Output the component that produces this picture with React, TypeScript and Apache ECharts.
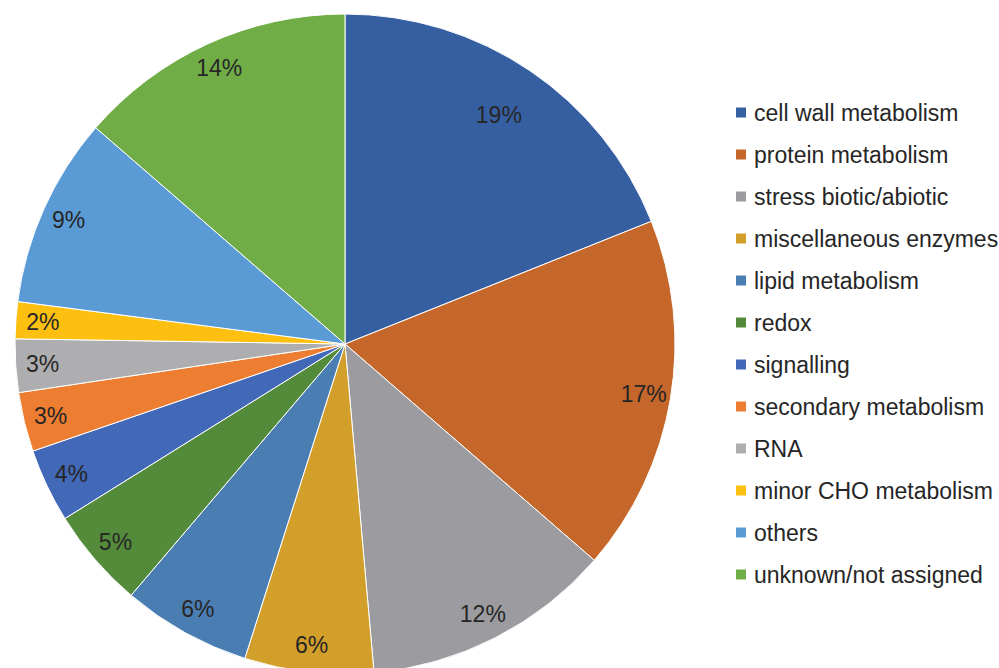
import React, { useEffect, useRef } from "react";
import * as echarts from "echarts";

const categories = [
  "cell wall metabolism",
  "protein metabolism",
  "stress biotic/abiotic",
  "miscellaneous enzymes",
  "lipid metabolism",
  "redox",
  "signalling",
  "secondary metabolism",
  "RNA",
  "minor CHO metabolism",
  "others",
  "unknown/not assigned",
];

const values = [18.9, 17.4, 12.2, 6.3, 6.3, 4.9, 3.6, 2.9, 2.6, 1.8, 9.3, 13.6];

const colors = [
  "#365fa2",
  "#c5662a",
  "#9c9ca0",
  "#d29f2a",
  "#4a7eb3",
  "#548b3b",
  "#4268b8",
  "#ed7d31",
  "#aeaeb1",
  "#fdc010",
  "#5b9bd5",
  "#71ad47",
];

export default function App() {
  const ref = useRef<HTMLDivElement>(null);

  useEffect(() => {
    if (!ref.current) return;
    const chart = echarts.init(ref.current, undefined, { renderer: "svg" });
    const data = categories.map((name, i) => ({
      name,
      value: values[i],
      itemStyle: { color: colors[i] },
    }));
    chart.setOption({
      animation: false,
      backgroundColor: "#ffffff",
      textStyle: { fontFamily: "Liberation Sans, Arial, sans-serif" },
      legend: {
        orient: "vertical",
        left: 734,
        top: 101,
        padding: 0,
        icon: "rect",
        itemWidth: 12,
        itemHeight: 12,
        itemGap: 19,
        data: categories,
        selectedMode: false,
        textStyle: {
          fontSize: 23,
          color: "#262626",
          lineHeight: 22,
          padding: [0, 0, 0, 2],
        },
      },
      series: [
        {
          type: "pie",
          center: [345, 344],
          radius: [0, 330],
          startAngle: 90,
          clockwise: true,
          silent: true,
          label: { show: false },
          labelLine: { show: false },
          itemStyle: { borderColor: "#ffffff", borderWidth: 1 },
          emphasis: { disabled: true },
          data,
        },
        {
          type: "pie",
          center: [345, 344],
          radius: [270, 330],
          startAngle: 90,
          clockwise: true,
          silent: true,
          percentPrecision: 0,
          itemStyle: { color: "transparent" },
          emphasis: { disabled: true },
          labelLine: { show: false },
          label: {
            show: true,
            position: "inside",
            formatter: "{d}%",
            fontSize: 23,
            color: "#262626",
            fontFamily: "Liberation Sans, Arial, sans-serif",
          },
          data: categories.map((name, i) => ({
            name,
            value: values[i],
            itemStyle: { color: "transparent" },
            label: i === 0 ? { offset: [-16, 22] } : undefined,
          })),
        },
      ],
    });
    return () => chart.dispose();
  }, []);

  return (
    <div
      ref={ref}
      style={{ position: "fixed", left: 0, top: 0, width: 999, height: 668 }}
    />
  );
}
